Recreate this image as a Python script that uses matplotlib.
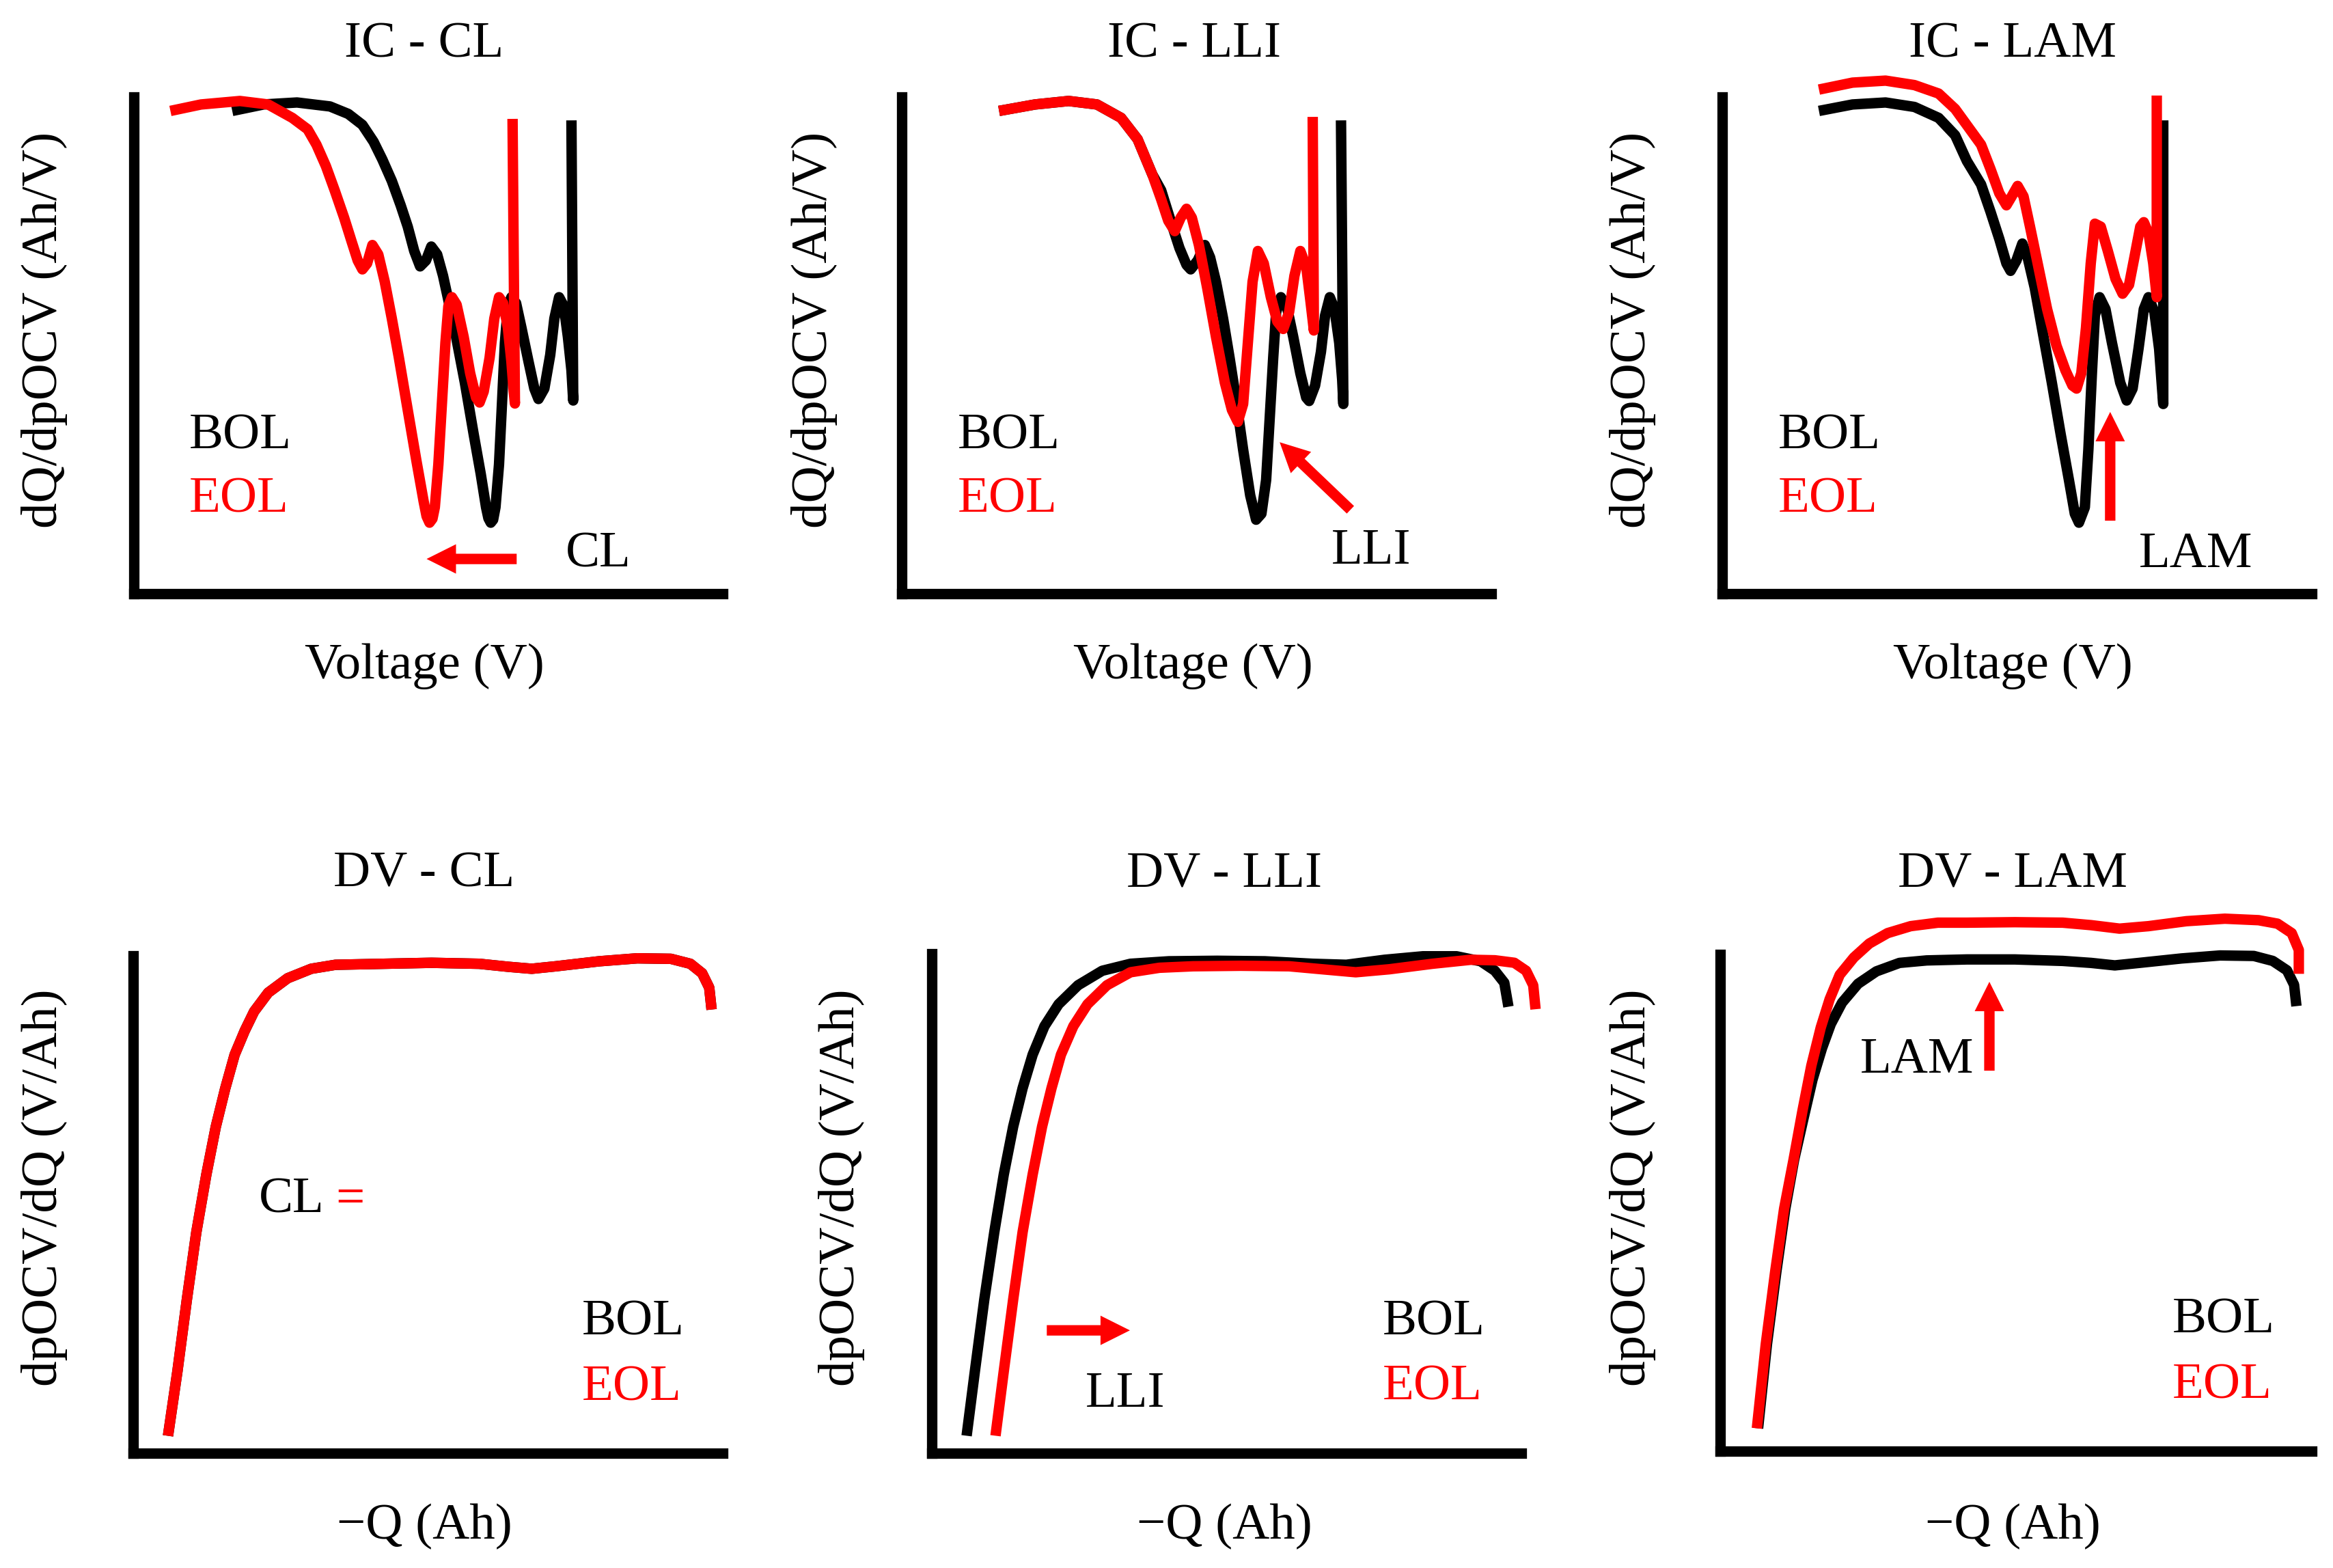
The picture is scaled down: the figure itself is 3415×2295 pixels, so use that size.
import matplotlib.pyplot as plt

plt.rcParams['font.family'] = ['Liberation Serif', 'DejaVu Serif']

W, H = 3416, 2295
RED = '#ff0000'
FS = 54
LW = 11

# curve points, arbitrary units (axis spans 0-100)
ic_cl_bol_x = [16.7, 22.0, 27.7, 33.3, 36.4, 38.8, 40.7, 42.2, 43.8, 45.3, 46.5, 47.6, 48.6, 49.6, 50.5,
               51.5, 52.5, 53.4, 54.6, 56.2, 57.7, 58.9, 59.8, 60.2, 60.6, 61.0, 61.4, 62.0, 62.5, 63.0,
               63.5, 64.1, 64.9, 65.8, 67.0, 68.0, 68.7, 69.7, 70.7, 71.4, 72.2, 73.0, 73.7, 74.3, 74.6,
               74.3]
ic_cl_bol_y = [97.2, 98.5, 98.9, 98.1, 96.6, 94.4, 91.0, 87.4, 83.1, 78.2, 73.9, 69.0, 65.9, 67.1, 69.9,
               68.3, 64.0, 59.1, 52.4, 42.5, 32.1, 24.1, 17.4, 15.2, 14.3, 14.9, 17.4, 26.0, 38.2, 50.5,
               57.9, 59.7, 58.5, 53.6, 46.8, 41.3, 39.2, 41.3, 48.1, 55.4, 59.7, 57.9, 51.7, 45.0, 38.9,
               95.3]
ic_cl_eol_x = [6.2, 11.4, 18.0, 22.8, 26.9, 29.5, 31.0, 32.6, 34.1, 35.7, 37.0, 38.0, 38.8, 39.6, 40.5,
               41.5, 42.6, 43.8, 45.0, 46.5, 48.0, 49.2, 49.7, 50.2, 50.7, 51.1, 51.7, 52.3, 52.9, 53.4,
               54.0, 54.8, 56.0, 57.1, 58.1, 58.7, 59.4, 60.4, 61.2, 62.0, 62.7, 63.5, 64.1, 64.5, 64.7,
               64.3]
ic_cl_eol_y = [97.2, 98.5, 99.2, 98.5, 95.8, 93.5, 90.4, 86.1, 81.2, 75.7, 70.8, 67.1, 65.3, 66.5, 70.2,
               68.3, 62.8, 55.4, 47.5, 37.0, 26.6, 18.6, 15.6, 14.3, 15.1, 17.4, 26.0, 38.2, 50.5, 57.9,
               59.7, 58.2, 51.7, 44.4, 39.5, 38.5, 40.7, 47.5, 55.4, 59.7, 58.5, 53.6, 46.8, 40.7, 38.3,
               95.6]

ic_lli_bol_x = [16.5, 22.6, 28.3, 33.1, 37.2, 40.0, 42.5, 44.0, 45.6, 47.1, 48.3, 49.0, 50.2, 51.4, 52.3,
                53.3, 54.5, 55.6, 56.8, 57.9, 59.1, 60.1, 61.0, 61.8, 62.4, 63.0, 63.5, 64.3, 65.3, 66.4,
                67.6, 68.6, 69.1, 70.1, 71.1, 71.8, 72.6, 73.4, 74.2, 74.7, 74.9, 74.5]
ic_lli_bol_y = [97.2, 98.5, 99.2, 98.5, 95.8, 91.5, 84.4, 81.2, 75.1, 69.6, 66.2, 65.3, 67.1, 70.2, 67.7,
                62.8, 55.4, 47.5, 38.3, 29.0, 19.8, 14.9, 16.1, 22.9, 35.2, 47.5, 56.7, 59.7, 57.9, 51.7,
                44.4, 39.5, 38.8, 41.9, 48.7, 56.0, 59.7, 57.3, 50.5, 43.1, 38.2, 95.3]
ic_lli_eol_x = [16.5, 22.6, 28.3, 33.1, 37.2, 40.0, 42.5, 44.0, 45.2, 46.3, 47.3, 48.3, 49.2, 50.4, 51.8,
                53.3, 54.8, 56.0, 57.0, 57.9, 58.7, 59.5, 60.4, 61.4, 62.6, 63.7, 64.7, 65.7, 66.6, 67.6,
                68.6, 69.3, 69.9, 69.7]
ic_lli_eol_y = [97.2, 98.5, 99.2, 98.5, 95.8, 91.5, 84.4, 79.4, 75.1, 73.0, 75.7, 77.5, 75.7, 70.2, 61.6,
                51.7, 42.5, 37.0, 34.6, 38.2, 50.5, 62.8, 69.0, 66.5, 59.7, 54.8, 53.3, 56.7, 64.0, 69.0,
                65.9, 59.1, 53.0, 96.0]

ic_lam_bol_x = [16.4, 22.1, 27.7, 32.6, 36.7, 39.5, 41.5, 43.9, 45.5, 47.0, 48.2, 48.9, 49.9, 50.9, 51.8,
                53.0, 54.3, 55.9, 57.4, 58.8, 59.8, 60.5, 61.5, 62.1, 62.7, 63.2, 64.0, 65.0, 66.1, 67.5,
                68.6, 69.6, 70.6, 71.5, 72.3, 73.3, 74.1, 74.6, 74.8, 74.8]
ic_lam_bol_y = [97.2, 98.5, 98.9, 98.0, 95.8, 92.3, 87.1, 82.4, 76.9, 71.4, 66.5, 65.0, 67.1, 70.5, 67.7,
                61.6, 53.0, 42.5, 32.1, 22.9, 16.1, 14.3, 17.4, 29.0, 44.4, 56.0, 59.7, 57.3, 50.5, 42.5,
                38.9, 41.3, 49.3, 57.3, 59.7, 56.7, 49.3, 41.3, 38.2, 95.3]
ic_lam_eol_x = [16.4, 22.1, 27.7, 32.6, 36.7, 39.5, 43.9, 45.5, 47.0, 48.2, 49.1, 50.1, 51.1, 52.2, 53.6,
                55.1, 56.7, 58.2, 59.4, 60.1, 60.9, 61.7, 62.5, 63.2, 64.2, 65.4, 66.7, 67.9, 69.0, 70.0,
                70.9, 71.5, 72.3, 73.1, 73.7, 73.7]
ic_lam_eol_y = [101.5, 102.9, 103.3, 102.4, 100.7, 97.6, 90.4, 85.5, 80.6, 78.2, 80.0, 82.1, 80.0, 73.9, 65.9,
                57.3, 49.9, 45.0, 41.9, 41.3, 44.4, 53.6, 66.5, 74.5, 73.9, 69.0, 63.4, 60.4, 62.2, 68.3,
                73.9, 74.8, 72.6, 66.5, 59.7, 100.3]

dv_cl_x = [5.9, 7.5, 9.1, 10.7, 12.4, 14.0, 15.6, 17.2, 18.9, 20.5, 22.9, 26.2, 30.2, 34.3, 42.4, 50.6,
           58.7, 63.6, 67.6, 71.7, 79.0, 85.5, 91.2, 94.5, 96.5, 97.7, 98.1]
dv_cl_y = [3.5, 16.5, 30.9, 44.4, 56.0, 65.6, 73.3, 80.1, 84.9, 88.8, 92.6, 95.5, 97.4, 98.2, 98.4, 98.6,
           98.4, 97.8, 97.4, 97.9, 98.9, 99.5, 99.4, 98.4, 96.5, 93.6, 89.2]

dv_lli_bol_x = [5.9, 7.3, 8.9, 10.6, 12.2, 13.8, 15.4, 17.1, 19.1, 21.5, 24.8, 28.9, 33.7, 40.2, 48.4,
                56.5, 64.6, 70.3, 76.8, 83.3, 89.0, 93.1, 95.5, 97.1, 97.8]
dv_lli_bol_y = [3.5, 16.4, 30.8, 44.3, 55.8, 65.4, 73.1, 79.8, 85.5, 89.9, 93.7, 96.6, 98.0, 98.5, 98.6,
                98.5, 98.0, 97.8, 98.8, 99.5, 99.5, 98.5, 96.6, 94.2, 89.4]
dv_lli_eol_x = [10.8, 12.2, 13.8, 15.4, 17.1, 18.7, 20.3, 21.9, 24.0, 26.4, 29.7, 33.7, 38.6, 44.3, 52.4,
                60.6, 66.2, 71.9, 77.6, 84.9, 91.4, 95.5, 98.8, 100.8, 102.0, 102.4]
dv_lli_eol_y = [3.5, 16.4, 30.8, 44.3, 55.8, 65.4, 73.1, 79.8, 85.5, 89.9, 93.7, 96.3, 97.2, 97.5, 97.6,
                97.5, 96.9, 96.3, 96.9, 98.0, 98.8, 98.7, 98.2, 96.6, 93.7, 88.9]

dv_lam_bol_x = [6.4, 7.9, 9.5, 11.0, 12.5, 14.1, 15.6, 17.2, 18.7, 20.6, 23.3, 26.4, 30.3, 34.9, 41.7,
                49.8, 57.9, 62.7, 66.7, 70.8, 78.0, 84.5, 90.2, 93.4, 95.8, 97.0, 97.4]
dv_lam_bol_y = [4.6, 21.5, 36.2, 48.8, 58.7, 67.1, 74.8, 81.1, 86.0, 90.3, 94.1, 96.6, 98.3, 98.8, 99.0,
                99.0, 98.7, 98.3, 97.8, 98.3, 99.2, 99.8, 99.7, 98.7, 96.8, 93.9, 89.6]
dv_lam_eol_x = [6.2, 7.7, 9.3, 10.8, 12.4, 13.9, 15.4, 17.0, 18.5, 20.2, 22.6, 25.2, 28.3, 32.2, 36.8,
                41.7, 49.8, 57.9, 62.7, 67.5, 72.4, 78.8, 85.3, 91.0, 94.2, 96.6, 97.8, 97.8]
dv_lam_eol_y = [4.6, 21.5, 36.2, 48.8, 58.7, 68.5, 77.6, 85.3, 91.0, 95.9, 99.4, 102.2, 104.3, 105.7, 106.4,
                106.4, 106.5, 106.4, 105.9, 105.2, 105.7, 106.7, 107.2, 106.9, 106.2, 104.3, 100.9, 96.1]

titles = ['IC - CL', 'IC - LLI', 'IC - LAM', 'DV - CL', 'DV - LLI', 'DV - LAM']
ic_xlabel = 'Voltage (V)'
ic_ylabel = 'dQ/dpOCV (Ah/V)'
dv_xlabel = '\u2212Q (Ah)'
dv_ylabel = 'dpOCV/dQ (V/Ah)'

fig = plt.figure(figsize=(W / 100, H / 100), dpi=100)


def fig_text(x, y, s, **kw):
    # x, y in pixels from the top-left corner
    fig.text(x / W, 1 - y / H, s, fontsize=FS, **kw)


def arrow(ax, tail, tip):
    ax.annotate('', xy=tip, xytext=tail, annotation_clip=False,
                arrowprops=dict(arrowstyle='simple,head_length=3.1,head_width=3.1,tail_width=1.1',
                                mutation_scale=10, color=RED, lw=0, shrinkA=0, shrinkB=0))


def panel(box, bol, eol, title, title_pos, xlabel, xlabel_pos, ylabel, ylabel_pos):
    l, t, r, b = box
    ax = fig.add_axes([l / W, 1 - b / H, (r - l) / W, (b - t) / H])
    ax.set_xlim(0, 100)
    ax.set_ylim(0, 100)
    ax.patch.set_visible(False)
    for s in ('top', 'right'):
        ax.spines[s].set_visible(False)
    for s in ('left', 'bottom'):
        ax.spines[s].set_linewidth(LW)
        ax.spines[s].set_capstyle('projecting')
    ax.set_xticks([])
    ax.set_yticks([])
    ax.plot(bol[0], bol[1], color='black', lw=LW, solid_joinstyle='round',
            solid_capstyle='butt', clip_on=False)
    ax.plot(eol[0], eol[1], color=RED, lw=LW, solid_joinstyle='round',
            solid_capstyle='butt', clip_on=False)
    fig_text(*title_pos, title, ha='center', va='baseline')
    fig_text(*xlabel_pos, xlabel, ha='center', va='baseline')
    fig_text(*ylabel_pos, ylabel, ha='center', va='center', rotation=90)
    return ax


def bol_eol(ax, x, y_bol, y_eol):
    ax.text(x, y_bol, 'BOL', fontsize=FS, color='black', va='baseline')
    ax.text(x, y_eol, 'EOL', fontsize=FS, color=RED, va='baseline')


# IC - CL
ax = panel((196, 142, 1058, 869), (ic_cl_bol_x, ic_cl_bol_y), (ic_cl_eol_x, ic_cl_eol_y),
           titles[0], (621, 83), ic_xlabel, (621, 993), ic_ylabel, (65, 483))
bol_eol(ax, 9.4, 29.2, 16.5)
ax.text(73.3, 5.4, 'CL', fontsize=FS, va='baseline')
arrow(ax, (65.0, 7.0), (49.7, 7.0))

# IC - LLI
ax = panel((1320, 142, 2183, 869), (ic_lli_bol_x, ic_lli_bol_y), (ic_lli_eol_x, ic_lli_eol_y),
           titles[1], (1748, 83), ic_xlabel, (1746, 993), ic_ylabel, (1192, 483))
bol_eol(ax, 9.5, 29.2, 16.5)
ax.text(72.9, 6.0, 'LLI', fontsize=FS, va='baseline')
arrow(ax, (76.1, 16.9), (64.1, 30.5))

# IC - LAM
ax = panel((2521, 142, 3384, 869), (ic_lam_bol_x, ic_lam_bol_y), (ic_lam_eol_x, ic_lam_eol_y),
           titles[2], (2946, 83), ic_xlabel, (2946, 993), ic_ylabel, (2390, 483))
bol_eol(ax, 9.5, 29.2, 16.5)
ax.text(70.7, 5.4, 'LAM', fontsize=FS, va='baseline')
arrow(ax, (65.8, 14.7), (65.8, 36.6))

# DV - CL (BOL and EOL coincide)
ax = panel((195, 1399, 1058, 2127), (dv_cl_x, dv_cl_y), (dv_cl_x, dv_cl_y),
           titles[3], (621, 1298), dv_xlabel, (621, 2252), dv_ylabel, (65, 1738))
bol_eol(ax, 76.1, 23.8, 10.7)
ax.text(21.3, 48.4, 'CL', fontsize=FS, va='baseline')
ax.text(34.3, 48.4, '=', fontsize=FS, color=RED, va='baseline')

# DV - LLI
ax = panel((1364, 1396, 2227, 2127), (dv_lli_bol_x, dv_lli_bol_y), (dv_lli_eol_x, dv_lli_eol_y),
           titles[4], (1792, 1298), dv_xlabel, (1792, 2252), dv_ylabel, (1232, 1738))
bol_eol(ax, 76.4, 23.7, 10.7)
ax.text(26.0, 9.3, 'LLI', fontsize=FS, va='baseline')
arrow(ax, (19.5, 24.6), (33.6, 24.6))

# DV - LAM
ax = panel((2518, 1397, 3384, 2124), (dv_lam_bol_x, dv_lam_bol_y), (dv_lam_eol_x, dv_lam_eol_y),
           titles[5], (2946, 1298), dv_xlabel, (2946, 2252), dv_ylabel, (2390, 1738))
bol_eol(ax, 76.4, 23.8, 10.7)
ax.text(23.6, 76.2, 'LAM', fontsize=FS, va='baseline')
arrow(ax, (45.5, 76.6), (45.5, 94.5))

fig.savefig('out.png', dpi=100, facecolor='white')
